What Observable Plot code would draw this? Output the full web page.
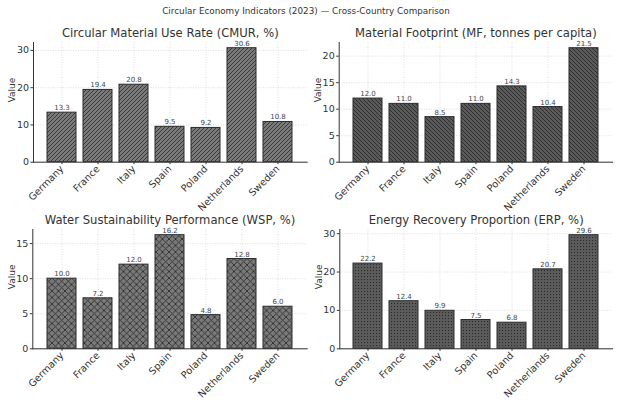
<!DOCTYPE html>
<html><head><meta charset="utf-8">
<script src="https://cdn.jsdelivr.net/npm/d3@7"></script>
<script src="https://cdn.jsdelivr.net/npm/@observablehq/plot@0.6"></script>
<style>
body{margin:0;background:#fff;}
#root{position:relative;width:624px;height:403px;font-family:"DejaVu Sans",sans-serif;overflow:hidden;background:#fff;}
.panel{position:absolute;}
.panel svg{overflow:visible;}
#suptitle{position:absolute;left:306px;top:7.3px;transform:translateX(-50%);white-space:nowrap;font-size:8.8px;line-height:1;color:#333;}
</style></head><body><div id="root"></div>
<script>
// ---- data ----
const countries = ["Germany","France","Italy","Spain","Poland","Netherlands","Sweden"];
const cmur = [13.3,19.4,20.8,9.5,9.2,30.6,10.8];
const mf   = [12.0,11.0,8.5,11.0,14.3,10.4,21.5];
const wsp  = [10.0,7.2,12.0,16.2,4.8,12.8,6.0];
const erp  = [22.2,12.4,9.9,7.5,6.8,20.7,29.6];
const panelTitles = [
  "Circular Material Use Rate (CMUR, %)",
  "Material Footprint (MF, tonnes per capita)",
  "Water Sustainability Performance (WSP, %)",
  "Energy Recovery Proportion (ERP, %)"
];
const yTicks = [[0,10,20,30],[0,5,10,15,20],[0,5,10,15],[0,10,20,30]];
const mainTitle = "Circular Economy Indicators (2023) \u2014 Cross-Country Comparison";
const yLabel = "Value";

// ---- layout ----
const series = [cmur, mf, wsp, erp];
const layout = [
  {left:0,   top:0,   h:200, mt:42, mb:38.3, ml:33,   mr:5.3},
  {left:312, top:0,   h:200, mt:42, mb:38.3, ml:26.7, mr:12},
  {left:0,   top:200, h:203, mt:29, mb:54.7, ml:32.3, mr:5.3},
  {left:312, top:200, h:203, mt:29, mb:54.7, ml:27.3, mr:12}
];

function makeDefs(i) {
  const ns = "http://www.w3.org/2000/svg";
  const defs = document.createElementNS(ns, "defs");
  let html = "";
  if (i === 0) {
    html = `<pattern id="hp0" patternUnits="userSpaceOnUse" width="4" height="4">
      <rect width="4" height="4" fill="#7a7a7a"/>
      <path d="M-1,1 L1,-1 M0,4 L4,0 M3,5 L5,3" stroke="#333" stroke-width="0.9"/></pattern>`;
  } else if (i === 1) {
    html = `<pattern id="hp1" patternUnits="userSpaceOnUse" width="4" height="4">
      <rect width="4" height="4" fill="#5a5a5a"/>
      <path d="M-1,3 L1,5 M0,0 L4,4 M3,-1 L5,1" stroke="#2a2a2a" stroke-width="0.9"/></pattern>`;
  } else if (i === 2) {
    html = `<pattern id="hp2" patternUnits="userSpaceOnUse" width="6.5" height="6.5">
      <rect width="6.5" height="6.5" fill="#7a7a7a"/>
      <path d="M0,0 L6.5,6.5 M0,6.5 L6.5,0" stroke="#2e2e2e" stroke-width="0.9"/></pattern>`;
  } else {
    html = `<pattern id="hp3" patternUnits="userSpaceOnUse" width="3" height="3">
      <rect width="3" height="3" fill="#5c5c5c"/>
      <rect x="1" y="1" width="1.1" height="1.1" fill="#2a2a2a"/></pattern>`;
  }
  defs.innerHTML = html;
  return defs;
}

const root = document.getElementById("root");

series.forEach((vals, i) => {
  const L = layout[i];
  const data = countries.map((c, j) => ({country: c, value: vals[j]}));
  const ymax = d3.max(vals) * 1.05;
  const chart = Plot.plot({
    width: 312, height: L.h,
    marginLeft: L.ml, marginRight: L.mr, marginTop: L.mt, marginBottom: L.mb,
    style: {background: "transparent", overflow: "visible", fontFamily: "DejaVu Sans", color: "#333"},
    x: {domain: countries, paddingInner: 0.2, paddingOuter: 0.34, label: null},
    y: {domain: [0, ymax], label: null},
    marks: [
      () => makeDefs(i),
      Plot.gridX({stroke: "#c8c8c8", strokeOpacity: 1, strokeWidth: 0.6, strokeDasharray: "1,1.5"}),
      Plot.gridY(yTicks[i], {stroke: "#c8c8c8", strokeOpacity: 1, strokeWidth: 0.6, strokeDasharray: "1,1.5"}),
      Plot.barY(data, {x: "country", y: "value", fill: `url(#hp${i})`, stroke: "#2b2b2b", strokeWidth: 1}),
      Plot.text(data, {x: "country", y: "value", text: d => d.value.toFixed(1), dy: -2.5, lineAnchor: "bottom", fontSize: 7, fill: "#444"}),
      Plot.axisY({ticks: yTicks[i], tickSize: 2.5, tickPadding: 2, fontSize: 9.5, label: null}),
      Plot.axisX({tickRotate: -45, tickSize: 2.5, tickPadding: 2.5, fontSize: 9.8, label: null}),
      Plot.frame({anchor: "left", stroke: "#333", strokeWidth: 1}),
      Plot.frame({anchor: "bottom", stroke: "#333", strokeWidth: 1}),
      Plot.text([panelTitles[i]], {text: d => d, frameAnchor: "top", dy: -6, lineAnchor: "bottom", fontSize: 11.6, fill: "#333"}),
      Plot.text([yLabel], {text: d => d, frameAnchor: "left", dx: -21, rotate: -90, fontSize: 9, fill: "#333"})
    ]
  });
  const div = document.createElement("div");
  div.className = "panel";
  div.style.left = L.left + "px";
  div.style.top = L.top + "px";
  div.appendChild(chart);
  root.appendChild(div);
});

const t = document.createElement("div");
t.id = "suptitle";
t.textContent = mainTitle;
root.appendChild(t);
</script>
</body></html>
